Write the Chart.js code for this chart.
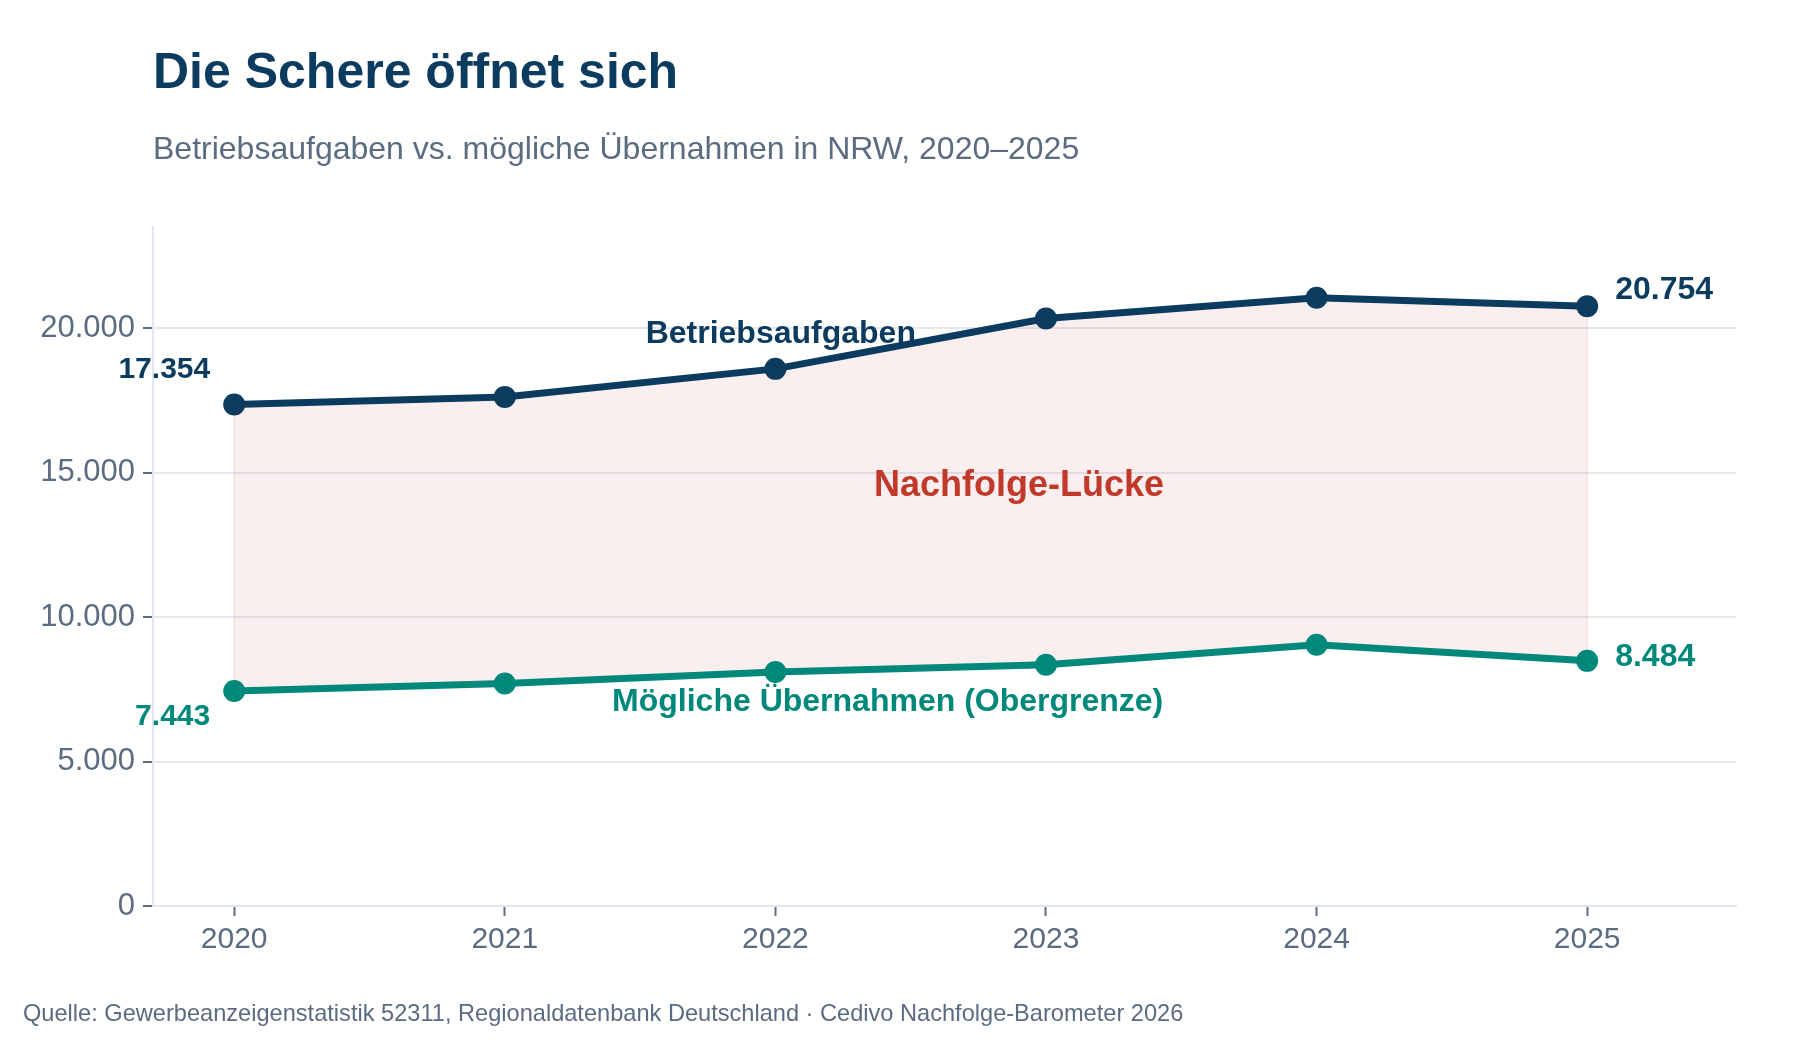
<!DOCTYPE html>
<html lang="de">
<head>
<meta charset="utf-8">
<title>Die Schere öffnet sich</title>
<script src="https://cdn.jsdelivr.net/npm/chart.js@4.4.1/dist/chart.umd.min.js"></script>
<style>
  html, body { margin: 0; padding: 0; background: #fff; }
  #wrap { width: 1800px; height: 1040px; }
</style>
</head>
<body>
<div id="wrap"><canvas id="chart1" width="1800" height="1040"></canvas></div>
<script>
// Daten
const years = ['2020', '2021', '2022', '2023', '2024', '2025'];
const betriebsaufgaben = [17354, 17620, 18590, 20330, 21050, 20754];
const uebernahmen = [7443, 7700, 8100, 8350, 9040, 8484];
const yTicks = [0, 5000, 10000, 15000, 20000];

const NAVY = '#0b3b5f';
const TEAL = '#00897b';
const RED = '#c0392b';
const GREY = '#5b6b80';
const FONT = '"Liberation Sans", Arial, Helvetica, sans-serif';

// 17354 -> "17.354"
const fmt = v => String(v).replace(/\B(?=(\d{3})+(?!\d))/g, '.');

const textPlugin = {
  id: 'texts',
  beforeDatasetsDraw(chart) {
    // schwache Kanten der Lücke am Anfang und Ende
    const { ctx, scales: { x, y } } = chart;
    ctx.save();
    ctx.strokeStyle = 'rgba(192, 57, 43, 0.10)';
    ctx.lineWidth = 2;
    [0, years.length - 1].forEach(i => {
      const px = x.getPixelForValue(i);
      ctx.beginPath();
      ctx.moveTo(px, y.getPixelForValue(betriebsaufgaben[i]));
      ctx.lineTo(px, y.getPixelForValue(uebernahmen[i]));
      ctx.stroke();
    });
    ctx.restore();
  },
  afterDatasetsDraw(chart) {
    const { ctx, chartArea, scales: { x, y } } = chart;
    const last = years.length - 1;
    ctx.save();
    ctx.textBaseline = 'alphabetic';

    // Titel + Untertitel
    ctx.textAlign = 'left';
    ctx.fillStyle = NAVY;
    ctx.font = 'bold 50px ' + FONT;
    ctx.fillText('Die Schere öffnet sich', chartArea.left, 88);
    ctx.fillStyle = GREY;
    ctx.font = '32px ' + FONT;
    ctx.fillText('Betriebsaufgaben vs. mögliche Übernahmen in NRW, 2020–2025', chartArea.left, 159);

    // Quelle
    ctx.font = '23.6px ' + FONT;
    ctx.fillText('Quelle: Gewerbeanzeigenstatistik 52311, Regionaldatenbank Deutschland · Cedivo Nachfolge-Barometer 2026', 23, 1021);

    // Start- und Endwerte
    const x0 = x.getPixelForValue(0), xN = x.getPixelForValue(last);
    ctx.font = 'bold 30px ' + FONT;
    ctx.textAlign = 'right';
    ctx.fillStyle = NAVY;
    ctx.fillText(fmt(betriebsaufgaben[0]), x0 - 24, y.getPixelForValue(betriebsaufgaben[0]) - 27);
    ctx.fillStyle = TEAL;
    ctx.fillText(fmt(uebernahmen[0]), x0 - 24, y.getPixelForValue(uebernahmen[0]) + 34);

    ctx.font = 'bold 32px ' + FONT;
    ctx.textAlign = 'left';
    ctx.fillStyle = NAVY;
    ctx.fillText(fmt(betriebsaufgaben[last]), xN + 28, y.getPixelForValue(betriebsaufgaben[last]) - 7);
    ctx.fillStyle = TEAL;
    ctx.fillText(fmt(uebernahmen[last]), xN + 28, y.getPixelForValue(uebernahmen[last]) + 5);

    // Serienbeschriftungen
    ctx.textAlign = 'center';
    ctx.font = 'bold 32px ' + FONT;
    ctx.fillStyle = NAVY;
    ctx.fillText('Betriebsaufgaben', x.getPixelForValue(2.02), y.getPixelForValue(19500));
    ctx.fillStyle = TEAL;
    ctx.fillText('Mögliche Übernahmen (Obergrenze)', x.getPixelForValue(2.415), y.getPixelForValue(6740));
    ctx.fillStyle = RED;
    ctx.font = 'bold 36px ' + FONT;
    ctx.fillText('Nachfolge-Lücke', x.getPixelForValue(2.9), y.getPixelForValue(14180));
    ctx.restore();
  }
};

const ctx = document.getElementById('chart1');

new Chart(ctx, {
  type: 'line',
  data: {
    datasets: [{
      label: 'Betriebsaufgaben',
      data: betriebsaufgaben.map((v, i) => ({ x: i, y: v })),
      borderColor: NAVY,
      backgroundColor: 'rgba(192, 57, 43, 0.08)',
      borderWidth: 7,
      pointRadius: 11,
      pointBackgroundColor: NAVY,
      pointBorderWidth: 0,
      fill: '+1',
      tension: 0
    }, {
      label: 'Mögliche Übernahmen (Obergrenze)',
      data: uebernahmen.map((v, i) => ({ x: i, y: v })),
      borderColor: TEAL,
      borderWidth: 7,
      pointRadius: 11,
      pointBackgroundColor: TEAL,
      pointBorderWidth: 0,
      fill: false,
      tension: 0
    }]
  },
  options: {
    responsive: false,
    animation: false,
    devicePixelRatio: 1,
    events: [],
    layout: { padding: { top: 227, right: 64, left: 0, bottom: 0 } },
    plugins: {
      legend: { display: false },
      tooltip: { enabled: false },
      filler: { drawTime: 'beforeDatasetsDraw' }
    },
    scales: {
      x: {
        type: 'linear',
        min: -0.3,
        max: 5.55,
        afterBuildTicks: scale => { scale.ticks = years.map((_, i) => ({ value: i })); },
        afterFit: scale => { scale.height = 134; },
        ticks: {
          callback: v => years[v],
          color: GREY,
          font: { family: FONT, size: 30 },
          padding: 6,
          maxRotation: 0
        },
        grid: { drawOnChartArea: false, drawTicks: true, tickLength: 10, tickColor: GREY, tickWidth: 2 },
        border: { display: true, color: '#e2e6ee', width: 2 }
      },
      y: {
        min: 0,
        max: 23500,
        afterBuildTicks: scale => { scale.ticks = yTicks.map(v => ({ value: v })); },
        afterFit: scale => { scale.width = 153; },
        ticks: {
          callback: v => fmt(v),
          color: GREY,
          font: { family: FONT, size: 31 },
          padding: 8
        },
        grid: { color: '#e6e8f0', lineWidth: 2, tickLength: 10, tickColor: GREY, tickWidth: 2 },
        border: { display: true, color: '#e2e6ee', width: 2 }
      }
    }
  },
  plugins: [textPlugin]
});
</script>
</body>
</html>
